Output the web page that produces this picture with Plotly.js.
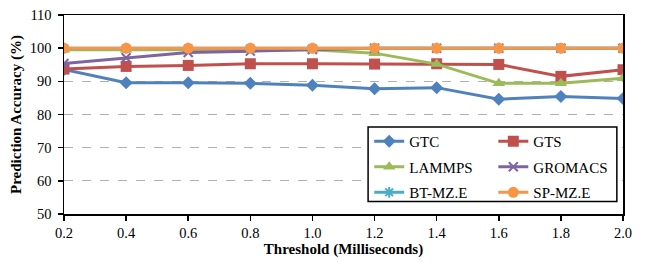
<!DOCTYPE html>
<html><head><meta charset="utf-8">
<script src="https://cdn.plot.ly/plotly-3.0.1.min.js"></script>
<style>html,body{margin:0;padding:0;background:#fff}</style>
</head><body><div id="chart" style="width:648px;height:262px"></div>
<script>
const thresholds = [0.2, 0.4, 0.6, 0.8, 1.0, 1.2, 1.4, 1.6, 1.8, 2.0];
const tickLabels = ["0.2","0.4","0.6","0.8","1.0","1.2","1.4","1.6","1.8","2.0"];
const gtc     = [93.6, 89.6, 89.6, 89.4, 88.8, 87.8, 88.1, 84.6, 85.4, 84.8];
const gts     = [93.7, 94.5, 94.8, 95.3, 95.3, 95.2, 95.3, 95.1, 91.5, 93.5];
const lammps  = [99.5, 99.5, 99.5, 99.5, 99.5, 98.5, 95.2, 89.4, 89.4, 90.9];
const gromacs = [95.4, 97.1, 98.7, 99.1, 99.6, 100, 100, 100, 100, 100];
const btmz    = [100, 100, 100, 100, 100, 100, 100, 100, 100, 100];
const spmz    = [100, 100, 100, 100, 100, 100, 100, 100, 100, 100];
const names   = ["GTC", "GTS", "LAMMPS", "GROMACS", "BT-MZ.E", "SP-MZ.E"];

const series = [gtc, gts, lammps, gromacs, btmz, spmz];
const colors = ["#4F81BD", "#C0504D", "#9BBB59", "#8064A2", "#4BACC6", "#F79646"];
const symbols = ["diamond", "square", "triangle-up", "x-thin-open", "asterisk-open", "circle"];
const sizes = [10, 11, 11, 9, 9, 11];
const legendOf = ["legend", "legend2", "legend", "legend2", "legend", "legend2"];
const SERIF = "Liberation Serif";

const traces = series.map((ys, i) => ({
  x: thresholds, y: ys, name: names[i], type: "scatter", mode: "lines+markers",
  legend: legendOf[i], legendgroup: names[i],
  line: {color: colors[i], width: 3},
  marker: {symbol: symbols[i], size: sizes[i], color: colors[i],
           line: {color: colors[i], width: (i === 3 || i === 4) ? 2 : 0}}
}));

const legendCommon = {
  yanchor: "top", xanchor: "left", orientation: "v",
  bgcolor: "rgba(0,0,0,0)", borderwidth: 0, tracegroupgap: 3,
  font: {family: SERIF, size: 15, color: "#000"}, traceorder: "grouped"
};

const layout = {
  width: 648, height: 262,
  margin: {l: 64, r: 25, t: 15, b: 48, autoexpand: false},
  paper_bgcolor: "#fff", plot_bgcolor: "#fff",
  font: {family: SERIF, size: 14, color: "#000"},
  showlegend: true,
  legend: Object.assign({}, legendCommon, {x: 0.546, y: 0.447}),
  legend2: Object.assign({}, legendCommon, {x: 0.768, y: 0.447}),
  shapes: [{type: "rect", xref: "paper", yref: "paper", x0: 0.544, x1: 0.989, y0: 0.063, y1: 0.437,
            fillcolor: "#fff", line: {color: "#000", width: 1.5}, layer: "above"}],
  xaxis: {
    range: [0.2, 2.0], tickvals: thresholds, ticktext: tickLabels,
    showgrid: false, zeroline: false,
    showline: true, linecolor: "#000", linewidth: 1.5, mirror: true,
    ticks: "outside", ticklen: 5, tickcolor: "#000", tickwidth: 1.5,
    tickfont: {family: SERIF, size: 14.5},
    title: {text: "<b>Threshold (Milliseconds)</b>", font: {family: SERIF, size: 15}, standoff: 2}
  },
  yaxis: {
    range: [50, 110], tickvals: [50, 60, 70, 80, 90, 100, 110],
    showgrid: true, gridcolor: "#b0b0b0", griddash: "dash", gridwidth: 1,
    zeroline: false,
    showline: true, linecolor: "#000", linewidth: 1.5, mirror: true,
    ticks: "outside", ticklen: 5, tickcolor: "#000", tickwidth: 1.5,
    ticklabelstandoff: 3,
    tickfont: {family: SERIF, size: 14.5},
    title: {text: "<b>Prediction Accuracy (%)</b>", font: {family: SERIF, size: 15}, standoff: 4}
  }
};

Plotly.newPlot("chart", traces, layout, {staticPlot: true, displayModeBar: false});
</script></body></html>
